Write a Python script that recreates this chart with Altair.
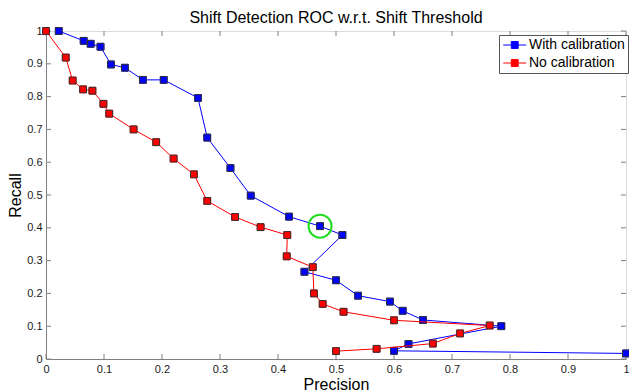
import altair as alt
import pandas as pd

# --- data ---
with_x = [0.022, 0.065, 0.077, 0.094, 0.112, 0.136, 0.167, 0.203, 0.262, 0.278, 0.318, 0.353,
          0.419, 0.4725, 0.511, 0.4456, 0.500, 0.538, 0.593, 0.615, 0.650, 0.785, 0.625, 0.600, 1.0]
with_y = [1.000, 0.970, 0.961, 0.952, 0.898, 0.888, 0.851, 0.851, 0.796, 0.675, 0.582, 0.498,
          0.434, 0.405, 0.378, 0.266, 0.240, 0.193, 0.175, 0.147, 0.119, 0.100, 0.046, 0.025, 0.017]

no_x = [0.000, 0.034, 0.046, 0.064, 0.080, 0.099, 0.109, 0.151, 0.190, 0.220, 0.255, 0.278, 0.326,
        0.370, 0.416, 0.415, 0.460, 0.462, 0.477, 0.513, 0.600, 0.765, 0.714, 0.667, 0.570, 0.500]
no_y = [1.000, 0.919, 0.849, 0.822, 0.818, 0.778, 0.748, 0.700, 0.661, 0.611, 0.563, 0.482, 0.433,
        0.402, 0.378, 0.313, 0.280, 0.200, 0.168, 0.144, 0.118, 0.102, 0.078, 0.047, 0.031, 0.024]

series_names = ["With calibration", "No calibration"]
series_colors = ["#0000ff", "#ff0000"]

highlight_x = [0.4725]
highlight_y = [0.405]

tick_values = [0, 0.1, 0.2, 0.3, 0.4, 0.5, 0.6, 0.7, 0.8, 0.9, 1]
tick_labels = ["0", "0.1", "0.2", "0.3", "0.4", "0.5", "0.6", "0.7", "0.8", "0.9", "1"]

title_text = "Shift Detection ROC w.r.t. Shift Threshold"
x_title = "Precision"
y_title = "Recall"

W, H = 580, 328
PAD_L, PAD_T, PAD_R, PAD_B = 38, 23, 3, 32
FONT = "Liberation Sans"
GRAY = "#808080"

rows = []
for i, (x, y) in enumerate(zip(with_x, with_y)):
    rows.append({"series": series_names[0], "order": i, "precision": x, "recall": y})
for i, (x, y) in enumerate(zip(no_x, no_y)):
    rows.append({"series": series_names[1], "order": i, "precision": x, "recall": y})
df = pd.DataFrame(rows)

label_expr = "{" + ",".join(f"'{v}':'{l}'" for v, l in zip(tick_values, tick_labels)) + "}[datum.value]"

xs = alt.Scale(domain=[0, 1], nice=False, zero=False)
ys = alt.Scale(domain=[0, 1], nice=False, zero=False)
cscale = alt.Scale(domain=series_names, range=series_colors)

# line through a small square; unit = sqrt(size)/2 px
legend_path = "M-1,0H0.4M1.6,0H3M0.4,-0.6H1.6V0.6H0.4Z"
leg = alt.Legend(title=None, orient="none", legendX=W - 127, legendY=4,
                 symbolType=legend_path, symbolSize=132, symbolStrokeWidth=1,
                 labelFont=FONT, labelFontSize=14, labelColor="#000000",
                 strokeColor="#555555", fillColor="#ffffff", padding=3,
                 rowPadding=4, labelOffset=13)

axis_common = dict(values=tick_values, labelExpr=label_expr, tickSize=0, labelPadding=4,
                   grid=False, domainColor=GRAY, labelFont=FONT, labelFontSize=11,
                   labelColor="#1a1a1a", titleFont=FONT, titleFontSize=16,
                   titleFontWeight="normal", titleColor="#000000", labelFlush=False,
                   labelOverlap=False)
x_axis = alt.Axis(title=x_title, titlePadding=2, **axis_common)
y_axis = alt.Axis(title=y_title, titlePadding=3, **axis_common)
xenc = alt.X("precision:Q", scale=xs, axis=x_axis)
yenc = alt.Y("recall:Q", scale=ys, axis=y_axis)

ticks_df = pd.DataFrame({"v": tick_values})
tk = alt.Chart(ticks_df)
tick_color = GRAY
tx = alt.X("v:Q", scale=xs, axis=x_axis)
ty = alt.Y("v:Q", scale=ys, axis=y_axis)
t_bottom = tk.mark_rule(color=tick_color, strokeWidth=1).encode(
    x=tx, y=alt.value(H), y2=alt.value(H - 5))
t_top = tk.mark_rule(color=tick_color, strokeWidth=1).encode(
    x=tx, y=alt.value(0), y2=alt.value(5))
t_left = tk.mark_rule(color=tick_color, strokeWidth=1).encode(
    y=ty, x=alt.value(0), x2=alt.value(5))
t_right = tk.mark_rule(color=tick_color, strokeWidth=1).encode(
    y=ty, x=alt.value(W), x2=alt.value(W - 5))

layers = []
for k, name in enumerate(series_names):
    sub = alt.Chart(df).transform_filter(alt.datum.series == name)
    line = sub.mark_line(strokeWidth=1, clip=False).encode(
        x=xenc, y=yenc, order="order:Q",
        stroke=alt.Stroke("series:N", scale=cscale, legend=leg))
    pts = sub.mark_point(shape="square", filled=True, size=46, opacity=1, strokeWidth=1).encode(
        x=xenc, y=yenc,
        fill=alt.Fill("series:N", scale=cscale, legend=leg),
        stroke=alt.Stroke("series:N", scale=cscale, legend=leg))
    edge = sub.mark_point(shape="square", filled=False, size=46, opacity=1, strokeWidth=1,
                          color="#333333").encode(x=xenc, y=yenc)
    layers += [line, pts, edge]

hl = alt.Chart(pd.DataFrame({"precision": highlight_x, "recall": highlight_y})).mark_point(
    shape="circle", filled=False, size=529, strokeWidth=2, color="#22dd22", opacity=1
).encode(x=xenc, y=yenc)

chart = alt.layer(t_bottom, t_top, t_left, t_right, *layers, hl).properties(
    width=W, height=H,
    title=alt.TitleParams(title_text, font=FONT, fontSize=16, fontWeight="normal",
                          color="#000000", offset=-1, anchor="middle"),
    autosize=alt.AutoSizeParams(type="none"),
    padding={"left": PAD_L, "top": PAD_T, "right": PAD_R, "bottom": PAD_B},
).configure_view(stroke=GRAY, strokeWidth=1).configure(background="#ffffff")

chart.save("out.html", embed_options={"renderer": "svg", "actions": False})
